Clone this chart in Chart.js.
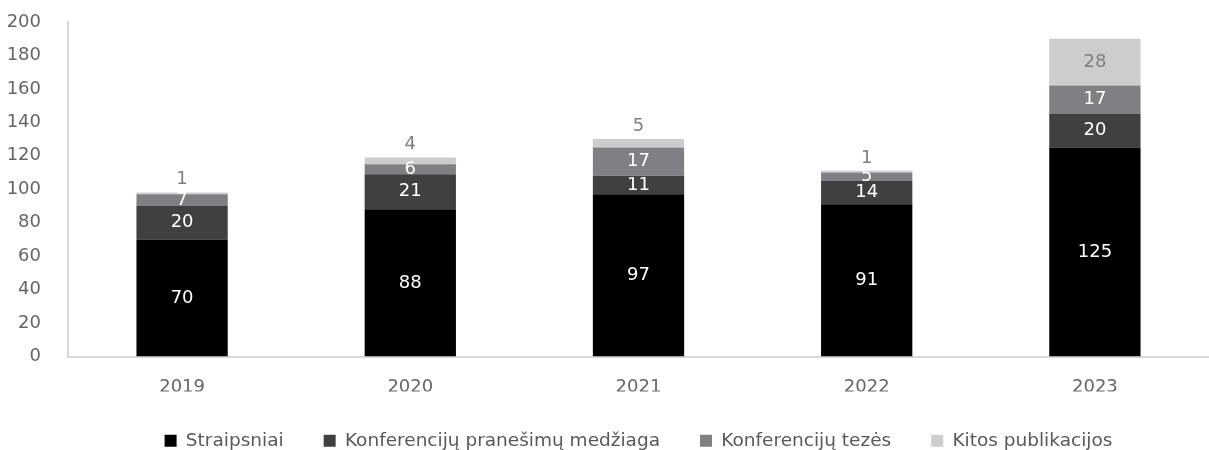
<!DOCTYPE html>
<html>
<head>
<meta charset="utf-8">
<script src="https://cdn.jsdelivr.net/npm/chart.js@4.4.0/dist/chart.umd.min.js"></script>
<style>
  html, body { margin: 0; padding: 0; background: #fff; }
</style>
</head>
<body>
<canvas id="chart" width="1209" height="450"></canvas>
<script>
const years = ["2019", "2020", "2021", "2022", "2023"];
const straipsniai = [70, 88, 97, 91, 125];
const pranesimai = [20, 21, 11, 14, 20];
const tezes = [7, 6, 17, 5, 17];
const kitos = [1, 4, 5, 1, 28];
const yTicks = [0, 20, 40, 60, 80, 100, 120, 140, 160, 180, 200];

const FONT = "'DejaVu Sans', sans-serif";

// draws the numbers on the segments
const segmentLabels = {
  id: "segmentLabels",
  afterDatasetsDraw(chart) {
    const ctx = chart.ctx;
    ctx.save();
    ctx.font = "18px " + FONT;
    ctx.textAlign = "center";
    chart.data.datasets.forEach((ds, i) => {
      const meta = chart.getDatasetMeta(i);
      meta.data.forEach((bar, j) => {
        const v = ds.data[j];
        const mid = (bar.y + bar.base) / 2;
        if (i === 3) {
          ctx.fillStyle = "#7f7f7f";
          if (v < 10) {
            ctx.textBaseline = "bottom";
            ctx.fillText(v, bar.x, bar.y - 4);
          } else {
            ctx.textBaseline = "middle";
            ctx.fillText(v, bar.x, mid);
          }
        } else {
          ctx.fillStyle = "#ffffff";
          ctx.textBaseline = "middle";
          ctx.fillText(v, bar.x, mid);
        }
      });
    });
    ctx.restore();
  },
};

new Chart(document.querySelector("#chart"), {
  type: "bar",
  data: {
    labels: years,
    datasets: [
      { label: "Straipsniai", data: straipsniai, backgroundColor: "#000000" },
      { label: "Konferencijų pranešimų medžiaga", data: pranesimai, backgroundColor: "#404042" },
      { label: "Konferencijų tezės", data: tezes, backgroundColor: "#7f8083" },
      { label: "Kitos publikacijos", data: kitos, backgroundColor: "#cbcdce" },
    ],
  },
  options: {
    responsive: false,
    animation: false,
    devicePixelRatio: 1,
    layout: { padding: { top: 22, right: 0, left: 0, bottom: -10 } },
    datasets: { bar: { categoryPercentage: 1, barPercentage: 0.4 } },
    plugins: {
      legend: {
        position: "bottom",
        fullSize: false,
        labels: {
          color: "#595959",
          font: { family: FONT, size: 18.5 },
          boxWidth: 12,
          boxHeight: 12,
          padding: 40,
        },
      },
      tooltip: { enabled: false },
    },
    scales: {
      x: {
        stacked: true,
        grid: { display: false },
        border: { color: "#d9d9d9", width: 2 },
        ticks: { color: "#666666", font: { family: FONT, size: 18 }, padding: 12, maxRotation: 0 },
        afterFit: (axis) => {
          axis.height = 35;
        },
      },
      y: {
        stacked: true,
        min: 0,
        max: 200,
        afterBuildTicks: (axis) => {
          axis.ticks = yTicks.map((v) => ({ value: v }));
        },
        afterFit: (axis) => {
          axis.width = 68;
          axis.paddingTop = 0;
          axis.paddingBottom = 0;
        },
        grid: { display: false },
        border: { color: "#d9d9d9", width: 2 },
        ticks: { color: "#666666", font: { family: FONT, size: 18 }, padding: 19 },
      },
    },
  },
  plugins: [segmentLabels],
});
</script>
</body>
</html>
